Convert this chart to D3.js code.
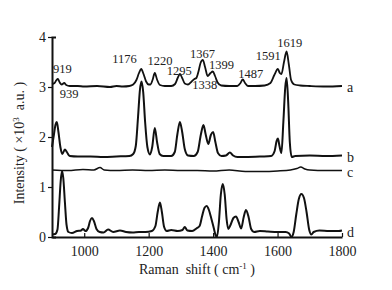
<!DOCTYPE html>
<html>
<head>
<meta charset="utf-8">
<script src="https://cdn.jsdelivr.net/npm/d3@7"></script>
<style>
  body { margin: 0; background: #fff; }
  text { font-family: "Liberation Serif", "Times New Roman", serif; fill: #222; }
</style>
</head>
<body>
<div id="chart"></div>
<script>
// Raman spectra a-d, [wavenumber cm-1, intensity x10^3]
const spectrumA = [
    [900, 3.06], [908, 3.08], [914, 3.14], [918, 3.16], [924, 3.09], [930, 3.05], [938, 3.08], [944, 3.04],
    [955, 3.02], [980, 3.02], [1000, 3.01], [1040, 3.02], [1080, 3.0], [1100, 3.02], [1120, 3.01],
    [1140, 3.02], [1152, 3.05], [1162, 3.14], [1170, 3.28], [1177, 3.36], [1184, 3.26], [1192, 3.11],
    [1200, 3.05], [1206, 3.05], [1212, 3.14], [1219, 3.28], [1226, 3.15], [1235, 3.04], [1250, 3.02],
    [1270, 3.02], [1282, 3.06], [1290, 3.18], [1297, 3.26], [1304, 3.18], [1312, 3.07], [1322, 3.05],
    [1332, 3.1], [1342, 3.16], [1348, 3.18], [1355, 3.32], [1361, 3.48], [1368, 3.54], [1375, 3.4],
    [1383, 3.22], [1392, 3.28], [1399, 3.31], [1406, 3.22], [1414, 3.09], [1425, 3.03], [1450, 3.02],
    [1475, 3.02], [1485, 3.08], [1492, 3.15], [1499, 3.08], [1508, 3.02], [1530, 3.02], [1560, 3.03],
    [1578, 3.08], [1590, 3.24], [1601, 3.36], [1607, 3.28], [1612, 3.26], [1620, 3.5], [1628, 3.71],
    [1635, 3.45], [1642, 3.14], [1652, 3.05], [1670, 3.03], [1700, 3.02], [1750, 3.01], [1800, 3.02]
];

const spectrumB = [
    [900, 1.8], [906, 2.05], [911, 2.25], [915, 2.3], [920, 2.1], [926, 1.8], [932, 1.66], [940, 1.75],
    [946, 1.7], [955, 1.62], [980, 1.61], [1020, 1.61], [1060, 1.6], [1100, 1.61], [1140, 1.62],
    [1152, 1.66], [1160, 1.82], [1167, 2.4], [1173, 2.95], [1178, 3.11], [1183, 2.9], [1189, 2.3],
    [1196, 1.8], [1204, 1.65], [1211, 1.8], [1219, 2.18], [1226, 1.9], [1234, 1.66], [1245, 1.62],
    [1270, 1.62], [1281, 1.7], [1289, 2.05], [1297, 2.3], [1304, 2.1], [1312, 1.76], [1322, 1.63],
    [1340, 1.62], [1352, 1.7], [1362, 2.05], [1370, 2.24], [1377, 2.05], [1385, 1.86], [1393, 2.04],
    [1400, 2.1], [1407, 1.9], [1415, 1.68], [1426, 1.62], [1440, 1.63], [1452, 1.69], [1462, 1.63],
    [1475, 1.6], [1500, 1.6], [1550, 1.61], [1580, 1.62], [1591, 1.72], [1597, 1.92], [1601, 1.97],
    [1606, 1.82], [1612, 1.68], [1618, 2.3], [1624, 3.0], [1628, 3.18], [1633, 2.7], [1638, 1.9],
    [1644, 1.6], [1655, 1.62], [1700, 1.63], [1750, 1.62], [1800, 1.63]
];

const spectrumC = [
    [900, 1.34], [950, 1.33], [996, 1.35], [1030, 1.34], [1049, 1.39], [1062, 1.34], [1100, 1.33],
    [1150, 1.34], [1200, 1.33], [1250, 1.34], [1300, 1.33], [1350, 1.33], [1400, 1.32], [1450, 1.34],
    [1500, 1.31], [1550, 1.31], [1600, 1.32], [1640, 1.34], [1660, 1.37], [1672, 1.4], [1685, 1.36],
    [1700, 1.34], [1750, 1.33], [1800, 1.33]
];

const spectrumD = [
    [900, 0.05], [910, 0.06], [917, 0.15], [922, 0.6], [927, 1.12], [931, 1.32], [935, 1.18],
    [940, 0.7], [945, 0.25], [951, 0.1], [962, 0.08], [978, 0.12], [990, 0.13], [996, 0.16],
    [1004, 0.12], [1012, 0.18], [1018, 0.32], [1024, 0.38], [1030, 0.32], [1038, 0.16], [1048, 0.1],
    [1060, 0.09], [1074, 0.15], [1090, 0.1], [1111, 0.13], [1130, 0.1], [1150, 0.09], [1170, 0.1],
    [1190, 0.1], [1210, 0.12], [1221, 0.22], [1228, 0.5], [1235, 0.69], [1241, 0.5], [1248, 0.2],
    [1256, 0.12], [1270, 0.14], [1290, 0.12], [1305, 0.14], [1312, 0.2], [1320, 0.13], [1335, 0.12],
    [1350, 0.18], [1358, 0.22], [1366, 0.42], [1373, 0.58], [1380, 0.62], [1387, 0.54], [1394, 0.38],
    [1402, 0.18], [1408, 0.03], [1412, 0.0], [1418, 0.3], [1424, 0.85], [1430, 1.06], [1436, 0.85],
    [1442, 0.35], [1447, 0.16], [1454, 0.24], [1463, 0.38], [1471, 0.41], [1479, 0.3], [1487, 0.17],
    [1495, 0.4], [1502, 0.54], [1510, 0.4], [1518, 0.16], [1527, 0.1], [1545, 0.12], [1570, 0.11],
    [1600, 0.1], [1625, 0.1], [1636, 0.07], [1643, 0.0], [1650, 0.1], [1658, 0.45], [1666, 0.76],
    [1674, 0.86], [1682, 0.78], [1690, 0.5], [1698, 0.15], [1705, 0.05], [1712, 0.1], [1730, 0.13],
    [1760, 0.12], [1790, 0.12], [1800, 0.13]
];

const seriesNames = ['a', 'b', 'c', 'd'];

// peak labels on spectrum a: text, anchor wavenumber, anchor intensity
const peakLabels = ['919', '939', '1176', '1220', '1295', '1367', '1338', '1399', '1487', '1591', '1619'];
const peakLabelX = [932, 953, 1125, 1235, 1295, 1367, 1374, 1426, 1517, 1571, 1638];
const peakLabelY = [3.28, 2.78, 3.48, 3.44, 3.24, 3.58, 2.96, 3.36, 3.18, 3.54, 3.8];

const xTicks = [1000, 1200, 1400, 1600, 1800];
const yTicks = [0, 1, 2, 3, 4];

const W = 392, H = 290;
const svg = d3.select('#chart').append('svg')
    .attr('width', W)
    .attr('height', H);

const x = d3.scaleLinear().domain([900, 1800]).range([52, 342]);
const y = d3.scaleLinear().domain([0, 4]).range([237, 37]);

// spectra
const line = d3.line()
    .x(d => x(d[0]))
    .y(d => y(d[1]))
    .curve(d3.curveMonotoneX);

const spectra = [spectrumA, spectrumB, spectrumC, spectrumD];
const widths = [1.8, 2, 1.5, 2];

spectra.forEach((s, i) => {
    svg.append('path')
        .datum(s)
        .attr('fill', 'none')
        .attr('stroke', '#111')
        .attr('stroke-width', widths[i])
        .attr('stroke-linejoin', 'round')
        .attr('d', line);

    const last = s[s.length - 1];
    svg.append('text')
        .attr('x', x(last[0]) + 5)
        .attr('y', y(last[1]) + 6)
        .style('font-size', '14px')
        .text(seriesNames[i]);
});

// peak labels
peakLabels.forEach((t, i) => {
    svg.append('text')
        .attr('x', x(peakLabelX[i]))
        .attr('y', y(peakLabelY[i]))
        .attr('text-anchor', 'middle')
        .style('font-size', '12.5px')
        .text(t);
});

// axes
const xAxis = svg.append('g')
    .attr('transform', `translate(0,${y(0)})`)
    .call(d3.axisBottom(x).tickValues(xTicks).tickFormat(d3.format('d'))
        .tickSizeInner(-4).tickSizeOuter(0).tickPadding(9));

const yAxis = svg.append('g')
    .attr('transform', `translate(${x(900)},0)`)
    .call(d3.axisLeft(y).tickValues(yTicks).tickFormat(d3.format('d'))
        .tickSizeInner(4).tickSizeOuter(-4).tickPadding(2));

[xAxis, yAxis].forEach(g => {
    g.select('.domain').attr('stroke', '#111').attr('stroke-width', 2);
    g.selectAll('.tick line').attr('stroke', '#111').attr('stroke-width', 1.2);
    g.selectAll('.tick text')
        .style('font-family', '"Liberation Serif", serif')
        .style('font-size', '14px')
        .attr('fill', '#222');
});

// axis titles
const xTitle = svg.append('text')
    .attr('x', 197)
    .attr('y', 274)
    .attr('text-anchor', 'middle')
    .style('font-size', '14px');
xTitle.append('tspan').text('Raman\u2002shift ( cm');
xTitle.append('tspan').attr('dy', -5).style('font-size', '9px').text('-1');
xTitle.append('tspan').attr('dy', 5).text(' )');

const yTitle = svg.append('text')
    .attr('transform', `translate(24,${(y(0) + y(4)) / 2 + 6}) rotate(-90)`)
    .attr('text-anchor', 'middle')
    .style('font-size', '14px');
yTitle.append('tspan').text('Intensity ( \u00d710');
yTitle.append('tspan').attr('dy', -5).style('font-size', '9px').text('3');
yTitle.append('tspan').attr('dy', 5).text('\u2002a.u. )');
</script>
</body>
</html>
